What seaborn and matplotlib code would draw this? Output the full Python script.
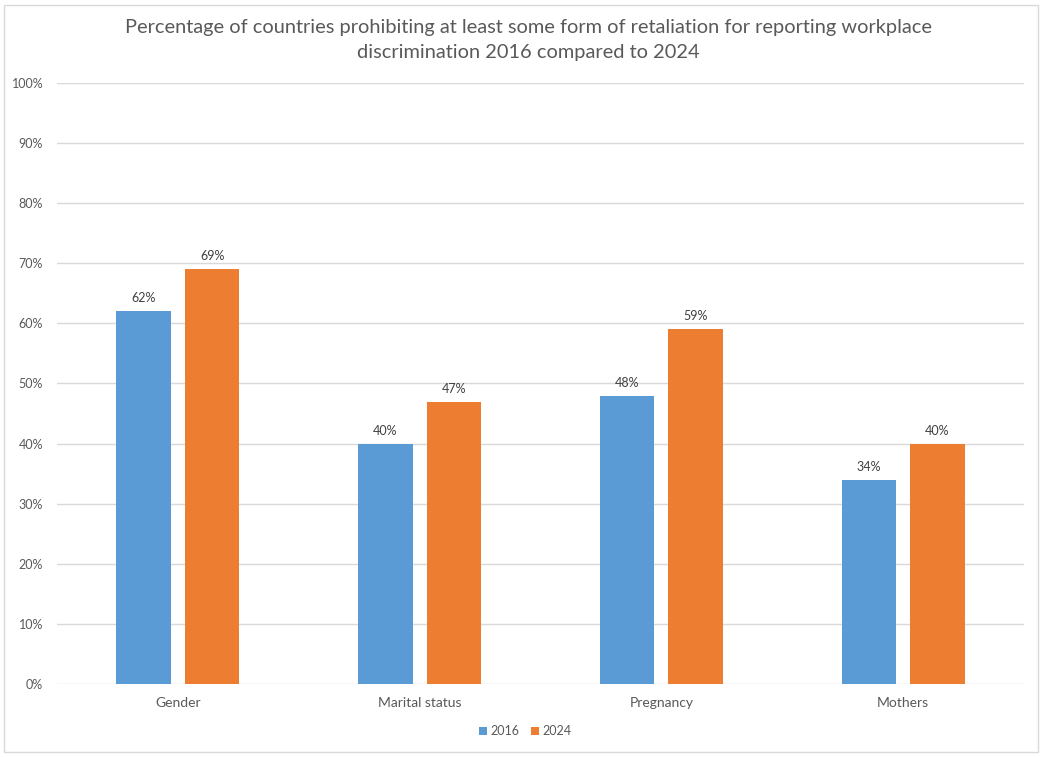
import matplotlib
matplotlib.use("Agg")
import matplotlib.pyplot as plt
import seaborn as sns
import pandas as pd
from matplotlib.patches import Rectangle
from matplotlib.ticker import MultipleLocator, FuncFormatter

categories = ["Gender", "Marital status", "Pregnancy", "Mothers"]
values_2016 = [62, 40, 48, 34]
values_2024 = [69, 47, 59, 40]
years = ["2016", "2024"]
colors = ["#5B9BD5", "#ED7D31"]

df = pd.DataFrame({
    "category": categories * 2,
    "year": [years[0]] * len(categories) + [years[1]] * len(categories),
    "value": values_2016 + values_2024,
})

sns.set_theme(style="white")
plt.rcParams["font.family"] = ["Lato", "DejaVu Sans"]

fig = plt.figure(figsize=(10.43, 7.57), dpi=100)
ax = fig.add_axes([0.0547, 0.0964, 0.9271, 0.794])

sns.barplot(data=df, x="category", y="value", hue="year", order=categories,
            hue_order=years, palette=colors, width=0.567, gap=0.204,
            saturation=1, ax=ax, legend=True, edgecolor="none")

ax.set_ylim(0, 100)
ax.set_xlim(-0.5, len(categories) - 0.5)
ax.yaxis.set_major_locator(MultipleLocator(10))
ax.yaxis.set_major_formatter(FuncFormatter(lambda v, _: f"{int(v)}%"))
ax.grid(axis="y", color="#D9D9D9", linewidth=1)
ax.set_axisbelow(True)
for s in ax.spines.values():
    s.set_visible(False)
ax.tick_params(axis="both", length=0, colors="#595959", labelsize=9)
ax.tick_params(axis="y", pad=10)
ax.tick_params(axis="x", pad=9)
for lbl in ax.get_xticklabels():
    lbl.set_fontsize(10)
ax.set_xlabel("")
ax.set_ylabel("")

for cont in ax.containers:
    ax.bar_label(cont, labels=[f"{v:.0f}%" for v in cont.datavalues],
                 padding=5, fontsize=9, color="#404040")

leg = ax.legend(loc="upper center", bbox_to_anchor=(0.484, -0.05), ncol=2,
                frameon=False, fontsize=9, handlelength=0.7, handleheight=0.7,
                handletextpad=0.25, columnspacing=0.9, labelcolor="#595959")

fig.suptitle("Percentage of countries prohibiting at least some form of retaliation for reporting workplace\n"
             "discrimination 2016 compared to 2024",
             x=0.507, y=0.975, fontsize=14.4, color="#595959", linespacing=1.6)

fig.patches.append(Rectangle((0.004, 0.006), 0.991, 0.988, transform=fig.transFigure,
                             fill=False, edgecolor="#D9D9D9", linewidth=1))

fig.savefig("out.png", dpi=100)
